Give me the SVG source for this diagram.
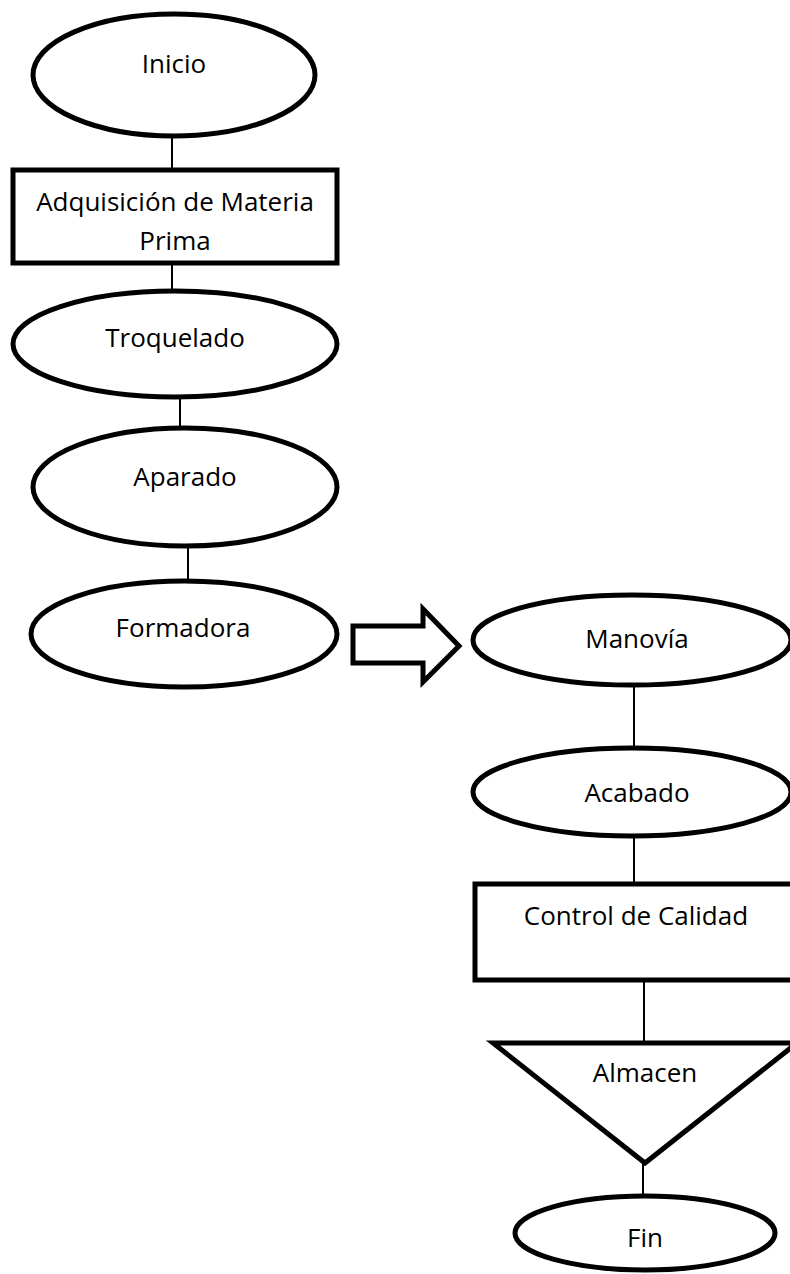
<svg xmlns="http://www.w3.org/2000/svg" width="790" height="1274" viewBox="0 0 790 1274">
<style>
.shape{fill:#fff;stroke:#000;stroke-width:5;stroke-linejoin:miter}
.conn{stroke:#000;stroke-width:2;fill:none}
.lbl{font-family:"Open Sans","Liberation Sans",sans-serif;font-size:26px;fill:#000;text-anchor:middle}
</style>
<rect width="790" height="1274" fill="#fff"/>
<g id="connectors">
<line class="conn" x1="172" y1="137" x2="172" y2="170"/>
<line class="conn" x1="172" y1="263" x2="172" y2="292"/>
<line class="conn" x1="180" y1="397" x2="180" y2="428"/>
<line class="conn" x1="188" y1="547" x2="188" y2="580"/>
<line class="conn" x1="634" y1="686" x2="634" y2="748"/>
<line class="conn" x1="634" y1="837" x2="634" y2="884"/>
<line class="conn" x1="644" y1="980" x2="644" y2="1043"/>
<line class="conn" x1="643" y1="1163" x2="643" y2="1195"/>
<polygon id="block-arrow" class="shape" points="353,626 423,626 423,609 459,646 423,682 423,663 353,663"/>
</g>
<g id="inicio">
<ellipse class="shape" cx="174" cy="75" rx="141" ry="61"/>
<text class="lbl" x="174" y="73">Inicio</text>
</g>
<g id="adquisicion">
<rect class="shape" x="13" y="170" width="324" height="93"/>
<text class="lbl" x="175" y="211">Adquisición de Materia</text>
<text class="lbl" x="175" y="250">Prima</text>
</g>
<g id="troquelado">
<ellipse class="shape" cx="175" cy="344" rx="162" ry="53"/>
<text class="lbl" x="175" y="347">Troquelado</text>
</g>
<g id="aparado">
<ellipse class="shape" cx="185" cy="487" rx="152" ry="59"/>
<text class="lbl" x="185" y="486">Aparado</text>
</g>
<g id="formadora">
<ellipse class="shape" cx="184" cy="634" rx="153" ry="53"/>
<text class="lbl" x="183" y="637">Formadora</text>
</g>
<g id="manovia">
<ellipse class="shape" cx="632" cy="640" rx="159" ry="45"/>
<text class="lbl" x="637" y="648">Manovía</text>
</g>
<g id="acabado">
<ellipse class="shape" cx="632" cy="792" rx="159" ry="44"/>
<text class="lbl" x="637" y="802">Acabado</text>
</g>
<g id="control">
<rect class="shape" x="475" y="884" width="340" height="96"/>
<text class="lbl" x="636" y="925">Control de Calidad</text>
</g>
<g id="almacen">
<polygon class="shape" points="493,1043 797,1043 645,1163"/>
<text class="lbl" x="645" y="1082">Almacen</text>
</g>
<g id="fin">
<ellipse class="shape" cx="645" cy="1233" rx="130" ry="37"/>
<text class="lbl" x="645" y="1247">Fin</text>
</g>
</svg>
